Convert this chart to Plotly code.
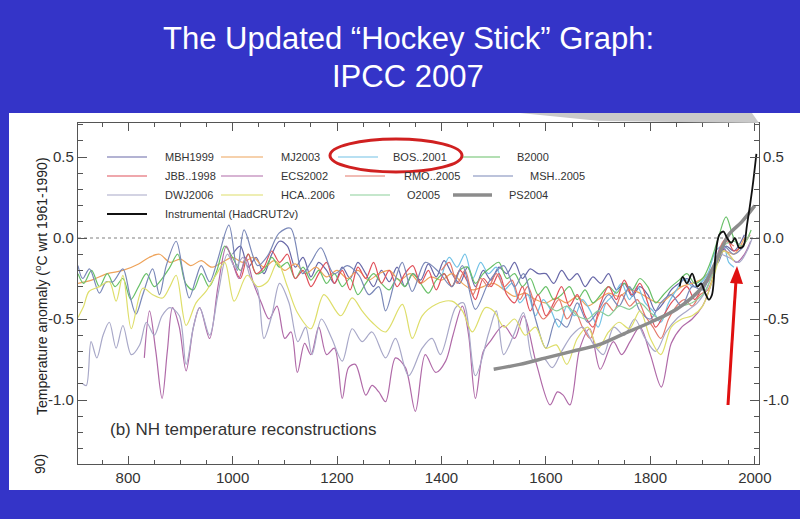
import plotly.graph_objects as go

# ---------------- data (year, anomaly) ----------------
MBH1999 = [(1000,-0.10),(1015,-0.05),(1030,-0.18),(1045,-0.12),(1060,-0.22),(1075,-0.10),(1090,-0.02),(1105,-0.05),
           (1120,-0.18),(1135,-0.12),(1150,-0.24),(1165,-0.15),(1180,-0.20),(1195,-0.28),(1210,-0.18),(1225,-0.25),
           (1240,-0.15),(1255,-0.22),(1270,-0.30),(1285,-0.20),(1300,-0.27),(1315,-0.18),(1330,-0.30),(1345,-0.22),
           (1360,-0.26),(1375,-0.16),(1390,-0.24),(1405,-0.14),(1420,-0.22),(1435,-0.28),(1450,-0.18),(1465,-0.30),
           (1480,-0.20),(1495,-0.26),(1510,-0.18),(1525,-0.22),(1540,-0.15),(1555,-0.25),(1570,-0.19),(1585,-0.22),
           (1600,-0.22),(1615,-0.28),(1630,-0.20),(1645,-0.26),(1660,-0.22),(1675,-0.30),(1690,-0.24),(1705,-0.28),
           (1720,-0.22),(1735,-0.32),(1750,-0.28),(1765,-0.36),(1780,-0.30),(1795,-0.35),(1810,-0.45),(1825,-0.40),
           (1840,-0.32),(1855,-0.28),(1870,-0.25),(1885,-0.30),(1900,-0.28),(1915,-0.22),(1930,-0.15),(1945,-0.05),
           (1960,-0.08),(1980,0.02)]
MJ2003 = [(704,-0.28),(730,-0.26),(760,-0.22),(790,-0.20),(820,-0.16),(840,-0.12),(860,-0.10),(880,-0.15),(900,-0.13),
          (920,-0.17),(940,-0.14),(960,-0.18),(980,-0.15),(1000,-0.12),(1020,-0.15),(1040,-0.12),(1060,-0.18),(1080,-0.14),
          (1100,-0.20),(1120,-0.16),(1140,-0.22),(1160,-0.18),(1180,-0.24),(1200,-0.20),(1220,-0.25),(1240,-0.20),
          (1260,-0.26),(1280,-0.22),(1300,-0.20),(1320,-0.26),(1340,-0.22),(1360,-0.28),(1380,-0.24),(1400,-0.26),
          (1420,-0.22),(1440,-0.28),(1460,-0.32),(1480,-0.30),(1500,-0.28),(1520,-0.32),(1540,-0.36),(1560,-0.34),
          (1580,-0.38),(1600,-0.40),(1620,-0.37),(1640,-0.40),(1660,-0.36),(1680,-0.42),(1700,-0.38),(1720,-0.34),
          (1740,-0.36),(1760,-0.32),(1780,-0.34),(1800,-0.38),(1820,-0.40),(1840,-0.35),(1860,-0.30),(1880,-0.28),
          (1900,-0.25),(1920,-0.18),(1940,-0.08),(1960,-0.10),(1980,0.00)]
BOS2001 = [(1402,-0.22),(1415,-0.12),(1430,-0.18),(1445,-0.10),(1460,-0.25),(1475,-0.15),(1490,-0.22),(1505,-0.18),
           (1520,-0.32),(1535,-0.28),(1550,-0.40),(1565,-0.35),(1580,-0.48),(1595,-0.38),(1610,-0.45),(1625,-0.55),
           (1640,-0.42),(1655,-0.48),(1670,-0.38),(1685,-0.45),(1700,-0.55),(1715,-0.40),(1730,-0.35),(1745,-0.28),
           (1760,-0.38),(1775,-0.30),(1790,-0.40),(1805,-0.45),(1820,-0.52),(1835,-0.40),(1850,-0.32),(1865,-0.25),
           (1880,-0.30),(1895,-0.28),(1910,-0.22),(1925,-0.08),(1940,-0.05),(1950,-0.15),(1960,-0.18)]
B2000 = [(704,-0.22),(715,-0.28),(730,-0.20),(745,-0.30),(760,-0.22),(775,-0.30),(790,-0.25),(805,-0.38),(820,-0.30),
         (835,-0.22),(850,-0.30),(865,-0.25),(880,-0.18),(895,-0.10),(910,-0.28),(925,-0.32),(940,-0.22),(955,-0.30),
         (970,-0.20),(985,-0.05),(1000,-0.12),(1015,-0.20),(1030,-0.10),(1045,-0.22),(1060,-0.20),(1075,-0.12),
         (1090,-0.18),(1105,-0.15),(1120,-0.25),(1135,-0.18),(1150,-0.26),(1165,-0.20),(1180,-0.28),(1195,-0.22),
         (1210,-0.30),(1225,-0.25),(1240,-0.35),(1255,-0.28),(1270,-0.22),(1285,-0.28),(1300,-0.32),(1315,-0.25),
         (1330,-0.30),(1345,-0.22),(1360,-0.28),(1375,-0.34),(1390,-0.26),(1405,-0.22),(1420,-0.30),(1435,-0.20),
         (1450,-0.18),(1465,-0.28),(1480,-0.22),(1495,-0.18),(1510,-0.15),(1525,-0.25),(1540,-0.22),(1555,-0.30),
         (1570,-0.25),(1585,-0.35),(1600,-0.30),(1615,-0.38),(1630,-0.35),(1645,-0.30),(1660,-0.38),(1675,-0.32),
         (1690,-0.40),(1705,-0.35),(1720,-0.30),(1735,-0.34),(1750,-0.28),(1765,-0.32),(1780,-0.25),(1795,-0.30),
         (1810,-0.40),(1825,-0.35),(1840,-0.30),(1855,-0.26),(1870,-0.22),(1885,-0.28),(1900,-0.25),(1915,-0.15),
         (1930,0.00),(1945,0.13),(1960,0.00),(1975,-0.05),(1993,0.05)]
JBB1998 = [(1000,-0.15),(1015,-0.25),(1030,-0.10),(1045,-0.22),(1060,-0.18),(1075,-0.08),(1090,-0.15),(1105,-0.10),
           (1120,-0.25),(1135,-0.20),(1150,-0.30),(1165,-0.22),(1180,-0.15),(1195,-0.28),(1210,-0.20),(1225,-0.32),
           (1240,-0.18),(1255,-0.25),(1270,-0.15),(1285,-0.28),(1300,-0.20),(1315,-0.30),(1330,-0.22),(1345,-0.17),
           (1360,-0.28),(1375,-0.20),(1390,-0.32),(1405,-0.22),(1420,-0.30),(1435,-0.20),(1450,-0.27),(1465,-0.38),
           (1480,-0.25),(1495,-0.30),(1510,-0.22),(1525,-0.35),(1540,-0.40),(1555,-0.30),(1570,-0.45),(1585,-0.35),
           (1600,-0.48),(1615,-0.40),(1630,-0.30),(1645,-0.42),(1660,-0.35),(1675,-0.48),(1690,-0.55),(1705,-0.40),
           (1720,-0.30),(1735,-0.38),(1750,-0.26),(1765,-0.35),(1780,-0.28),(1795,-0.40),(1810,-0.55),(1825,-0.48),
           (1840,-0.40),(1855,-0.35),(1870,-0.30),(1885,-0.38),(1900,-0.30),(1915,-0.25),(1930,-0.10),(1945,0.00),
           (1960,-0.08),(1975,-0.05),(1991,0.02)]
ECS2002 = [(831,-0.74),(841,-0.45),(853,-0.70),(865,-0.99),(875,-0.70),(885,-0.43),(898,-0.55),(911,-0.82),(925,-0.55),
           (937,-0.43),(956,-0.62),(972,-0.30),(988,-0.05),(1000,-0.15),(1012,-0.25),(1025,-0.12),(1040,-0.28),
           (1055,-0.40),(1070,-0.50),(1085,-0.42),(1100,-0.62),(1112,-0.58),(1124,-0.83),(1138,-0.65),(1150,-0.72),
           (1165,-0.55),(1180,-0.72),(1195,-0.68),(1210,-0.99),(1222,-0.80),(1235,-0.78),(1255,-0.97),(1267,-0.91),
           (1280,-0.95),(1293,-1.01),(1312,-0.74),(1331,-0.80),(1350,-1.07),(1369,-0.72),(1389,-0.83),(1408,-0.76),
           (1422,-0.60),(1440,-0.42),(1452,-0.60),(1465,-0.99),(1480,-0.70),(1493,-0.64),(1519,-0.54),(1540,-0.62),
           (1557,-0.48),(1582,-0.78),(1608,-1.03),(1622,-0.95),(1633,-0.97),(1646,-1.03),(1665,-0.68),(1684,-0.56),
           (1704,-0.81),(1729,-0.64),(1745,-0.72),(1761,-0.64),(1780,-0.55),(1800,-0.72),(1821,-0.92),(1840,-0.65),
           (1860,-0.55),(1880,-0.50),(1900,-0.42),(1920,-0.25),(1935,-0.05),(1950,-0.10),(1965,-0.15),(1980,-0.10),
           (1992,-0.02)]
RMO2005 = [(1400,-0.20),(1415,-0.15),(1430,-0.28),(1445,-0.20),(1460,-0.35),(1475,-0.25),(1490,-0.30),(1505,-0.22),
           (1520,-0.30),(1535,-0.26),(1550,-0.38),(1565,-0.30),(1580,-0.42),(1595,-0.50),(1610,-0.45),(1625,-0.38),
           (1640,-0.50),(1655,-0.45),(1670,-0.55),(1685,-0.62),(1700,-0.48),(1715,-0.40),(1730,-0.45),(1745,-0.35),
           (1760,-0.42),(1775,-0.38),(1790,-0.48),(1805,-0.55),(1820,-0.62),(1835,-0.50),(1850,-0.42),(1865,-0.38),
           (1880,-0.42),(1895,-0.35),(1910,-0.32),(1925,-0.18),(1940,-0.02),(1960,-0.05)]
MSH2005 = [(704,-0.17),(713,-0.25),(726,-0.19),(745,-0.34),(758,-0.27),(771,-0.27),(790,-0.19),(803,-0.35),(815,-0.47),
           (828,-0.35),(847,-0.19),(860,-0.35),(873,-0.17),(892,-0.02),(905,-0.21),(917,-0.37),(930,-0.25),(940,-0.17),
           (956,-0.27),(970,-0.15),(993,0.08),(1009,-0.20),(1022,0.05),(1048,-0.17),(1067,-0.11),(1089,0.03),
           (1111,0.06),(1134,-0.22),(1150,-0.15),(1169,-0.06),(1194,-0.22),(1220,-0.17),(1242,-0.23),(1261,-0.35),
           (1280,-0.30),(1293,-0.45),(1312,-0.25),(1325,-0.15),(1344,-0.33),(1369,-0.15),(1395,-0.21),(1420,-0.30),
           (1440,-0.17),(1465,-0.44),(1491,-0.27),(1519,-0.17),(1540,-0.30),(1557,-0.22),(1580,-0.50),(1600,-0.68),
           (1620,-0.50),(1640,-0.55),(1660,-0.40),(1680,-0.52),(1700,-0.45),(1720,-0.35),(1740,-0.42),(1760,-0.30),
           (1780,-0.45),(1800,-0.50),(1820,-0.40),(1840,-0.35),(1860,-0.42),(1880,-0.30),(1900,-0.32),(1920,-0.18),
           (1940,-0.05),(1960,-0.10),(1979,-0.05)]
DWJ2006 = [(713,-0.90),(720,-0.91),(729,-0.64),(740,-0.74),(752,-0.60),(764,-0.52),(777,-0.68),(790,-0.54),(806,-0.72),
           (822,-0.66),(835,-0.52),(850,-0.60),(865,-0.48),(880,-0.43),(898,-0.48),(911,-0.78),(925,-0.55),(937,-0.43),
           (956,-0.60),(972,-0.35),(990,-0.10),(1005,-0.18),(1020,-0.12),(1035,-0.25),(1048,-0.32),(1060,-0.62),
           (1075,-0.48),(1090,-0.28),(1108,-0.40),(1125,-0.64),(1140,-0.55),(1152,-0.72),(1170,-0.50),(1190,-0.62),
           (1210,-0.76),(1229,-0.56),(1248,-0.64),(1267,-0.58),(1293,-0.74),(1312,-0.62),(1337,-0.85),(1363,-0.68),
           (1382,-0.62),(1398,-0.72),(1427,-0.43),(1442,-0.40),(1465,-0.85),(1491,-0.58),(1505,-0.45),(1519,-0.72),
           (1538,-0.60),(1557,-0.46),(1576,-0.76),(1595,-0.74),(1612,-0.80),(1630,-0.70),(1650,-0.60),(1670,-0.55),
           (1690,-0.65),(1710,-0.72),(1730,-0.55),(1750,-0.60),(1770,-0.50),(1790,-0.62),(1810,-0.70),(1830,-0.58),
           (1850,-0.50),(1870,-0.45),(1890,-0.40),(1910,-0.30),(1930,-0.10),(1950,-0.12),(1970,-0.15),(1985,-0.08),
           (1995,0.00)]
HCA2006 = [(704,-0.49),(715,-0.42),(725,-0.33),(745,-0.30),(764,-0.27),(777,-0.39),(790,-0.23),(806,-0.56),(828,-0.31),
           (847,-0.35),(866,-0.37),(880,-0.30),(892,-0.23),(911,-0.54),(930,-0.40),(949,-0.33),(968,-0.23),(985,-0.15),
           (1003,-0.39),(1028,-0.23),(1048,-0.30),(1067,-0.27),(1086,-0.15),(1105,-0.30),(1124,-0.46),(1150,-0.56),
           (1175,-0.35),(1207,-0.48),(1229,-0.37),(1248,-0.45),(1267,-0.52),(1293,-0.58),(1325,-0.41),(1344,-0.62),
           (1363,-0.48),(1389,-0.41),(1420,-0.39),(1440,-0.45),(1459,-0.58),(1484,-0.43),(1500,-0.45),(1520,-0.55),
           (1540,-0.50),(1560,-0.60),(1580,-0.55),(1600,-0.68),(1620,-0.66),(1640,-0.78),(1660,-0.62),(1680,-0.55),
           (1700,-0.68),(1720,-0.58),(1740,-0.52),(1760,-0.56),(1780,-0.45),(1800,-0.62),(1820,-0.72),(1840,-0.55),
           (1860,-0.50),(1880,-0.48),(1900,-0.42),(1920,-0.25),(1940,-0.08),(1960,-0.14)]
O2005 = [(1600,-0.40),(1620,-0.45),(1640,-0.42),(1660,-0.48),(1680,-0.50),(1700,-0.45),(1720,-0.48),(1740,-0.42),
         (1760,-0.44),(1780,-0.40),(1800,-0.46),(1820,-0.50),(1840,-0.45),(1860,-0.42),(1880,-0.40),(1900,-0.35),
         (1920,-0.22),(1940,-0.05),(1960,-0.02),(1975,-0.05),(1990,0.02)]
PS2004 = [(1500,-0.81),(1550,-0.78),(1600,-0.74),(1650,-0.70),(1700,-0.66),(1750,-0.59),(1800,-0.52),(1850,-0.44),
          (1900,-0.30),(1925,-0.15),(1950,0.02),(1975,0.10),(2000,0.20)]
HADCRUT2V = [(1856,-0.30),(1862,-0.24),(1870,-0.28),(1880,-0.22),(1890,-0.30),(1897,-0.28),(1905,-0.34),(1912,-0.38),
             (1918,-0.35),(1925,-0.10),(1932,0.02),(1940,0.04),(1947,0.00),(1955,-0.03),(1962,0.00),(1970,-0.06),
             (1978,-0.05),(1985,0.08),(1995,0.30),(2003,0.52)]

SERIES = [
    ("MBH1999", MBH1999, "#6868a8", 1.2),
    ("MJ2003", MJ2003, "#eea35a", 1.2),
    ("BOS..2001", BOS2001, "#72c2e6", 1.2),
    ("B2000", B2000, "#68c068", 1.2),
    ("JBB..1998", JBB1998, "#e0505a", 1.2),
    ("ECS2002", ECS2002, "#b06aa8", 1.2),
    ("RMO..2005", RMO2005, "#e4786a", 1.2),
    ("MSH..2005", MSH2005, "#7a88b8", 1.2),
    ("DWJ2006", DWJ2006, "#a8a8c8", 1.2),
    ("HCA..2006", HCA2006, "#dede6a", 1.2),
    ("O2005", O2005, "#8ccf9a", 1.2),
    ("PS2004", PS2004, "#8c8c8c", 3.5),
    ("Instrumental (HadCRUT2v)", HADCRUT2V, "#111111", 1.8),
]

Y_TICKS = [-1.0, -0.5, 0.0, 0.5]
Y_TICK_TEXT = ["-1.0", "-0.5", "0.0", "0.5"]
Y_MINOR = [round(-1.3 + 0.1 * i, 1) for i in range(21)]

# ---------------- layout helpers (pixel -> paper) ----------------
L, R, T, B = 78, 759, 123, 464
W, H = 800, 519
def px(x): return (x - L) / (R - L)
def py(y): return (B - y) / (B - T)

FONT = "Liberation Sans, Arial, Helvetica, sans-serif"
BLUE = "#3434c8"
AX = "#555555"

fig = go.Figure()
for name, pts, col, w in SERIES:
    fig.add_trace(go.Scatter(
        x=[p[0] for p in pts], y=[p[1] for p in pts], mode="lines", name=name,
        line=dict(color=col, width=w, shape="spline", smoothing=0.9),
        yaxis="y2" if name.startswith("Instrumental") else "y",
        showlegend=False, hoverinfo="skip"))

shapes = [
    dict(type="rect", xref="paper", yref="paper", x0=px(9), x1=px(800), y0=py(490), y1=py(113),
         fillcolor="white", line=dict(width=0), layer="below"),
    dict(type="path", xref="paper", yref="paper",
         path=f"M {px(520)},{py(113)} L {px(752)},{py(113)} L {px(759)},{py(123)} L {px(600)},{py(121)} Z",
         fillcolor="#c9c9c9", line=dict(width=0), layer="above"),
    dict(type="line", xref="paper", yref="y", x0=0, x1=1, y0=0, y1=0,
         line=dict(color="#aaaaaa", width=1.5, dash="dot"), layer="below"),
    dict(type="circle", xref="paper", yref="paper", x0=px(330), x1=px(462), y0=py(172), y1=py(139),
         line=dict(color="#d02020", width=3)),
    # red arrow (shaft + head)
    dict(type="line", xref="paper", yref="paper", x0=px(728), y0=py(405), x1=px(736), y1=py(280),
         line=dict(color="#e01010", width=3)),
    dict(type="path", xref="paper", yref="paper",
         path=f"M {px(737)},{py(266)} L {px(743)},{py(284)} L {px(730)},{py(283)} Z",
         fillcolor="#e01010", line=dict(width=0)),
]

annotations = [
    dict(text="The Updated “Hockey Stick” Graph:", x=px(408), y=py(38), xref="paper", yref="paper",
         showarrow=False, font=dict(family=FONT, size=31, color="white"), yanchor="middle"),
    dict(text="IPCC 2007", x=px(408), y=py(77), xref="paper", yref="paper",
         showarrow=False, font=dict(family=FONT, size=31, color="white"), yanchor="middle"),
    dict(text="Temperature anomaly (<sup>o</sup>C wrt 1961-1990)", textangle=-90, x=px(30), y=py(286),
         xref="paper", yref="paper", showarrow=False, font=dict(family=FONT, size=14, color="#222")),
    dict(text="90)", textangle=-90, x=px(30), y=py(476), xref="paper", yref="paper",
         showarrow=False, font=dict(family=FONT, size=14, color="#222")),
    dict(text="(b) NH temperature reconstructions", x=px(108), y=py(441), xref="paper", yref="paper",
         xanchor="left", showarrow=False, font=dict(family=FONT, size=17, color="#333")),
]

# legend drawn as swatches + labels
LEG = [  # name, x0, x1, text_x, row_y
    ("MBH1999", 107, 147, 163, 157), ("MJ2003", 221, 263, 279, 157), ("BOS..2001", 338, 378, 391, 157), ("B2000", 463, 500, 515, 157),
    ("JBB..1998", 107, 147, 163, 176), ("ECS2002", 221, 263, 279, 176), ("RMO..2005", 345, 385, 402, 176), ("MSH..2005", 473, 513, 528, 176),
    ("DWJ2006", 107, 147, 163, 195), ("HCA..2006", 221, 263, 279, 195), ("O2005", 350, 390, 405, 195), ("PS2004", 453, 492, 507, 195),
    ("Instrumental (HadCRUT2v)", 107, 147, 163, 214),
]
style = {n: (c, w) for n, _, c, w in SERIES}
for name, x0, x1, tx, ry in LEG:
    c, w = style[name]
    shapes.append(dict(type="line", xref="paper", yref="paper", x0=px(x0), x1=px(x1), y0=py(ry), y1=py(ry),
                       line=dict(color=c, width=w)))
    annotations.append(dict(text=name, x=px(tx), y=py(ry), xref="paper", yref="paper", xanchor="left",
                            yanchor="middle", showarrow=False, font=dict(family=FONT, size=11, color="#333")))

yax = dict(range=[-1.395, 0.71], tickmode="array", tickvals=Y_TICKS, ticktext=Y_TICK_TEXT,
           ticks="inside", ticklen=9, tickwidth=1, tickcolor=AX, showline=True, linecolor=AX, linewidth=1.2,
           showgrid=False, zeroline=False, tickfont=dict(family=FONT, size=15, color="#333"),
           minor=dict(tickmode="array", tickvals=Y_MINOR, ticks="inside", ticklen=5, tickcolor=AX, showgrid=False))

fig.update_layout(
    width=W, height=H, margin=dict(l=L, r=W - R, t=T, b=H - B, pad=0),
    paper_bgcolor=BLUE, plot_bgcolor="white", showlegend=False,
    font=dict(family=FONT, color="#333"),
    xaxis=dict(range=[704, 2008], tickmode="linear", tick0=800, dtick=200, ticks="inside", ticklen=8,
               tickwidth=1, tickcolor=AX, showline=True, linecolor=AX, linewidth=1.2, mirror="ticks",
               showgrid=False, zeroline=False, tickfont=dict(family=FONT, size=15, color="#333"),
               minor=dict(tickmode="linear", tick0=800, dtick=50, ticks="inside", ticklen=4, tickcolor=AX, showgrid=False)),
    yaxis=yax,
    yaxis2=dict(yax, overlaying="y", side="right", anchor="x"),
    shapes=shapes, annotations=annotations,
)

fig.write_html("out.html", config={"displayModeBar": False},
               post_script="document.body.style.margin='0';document.body.style.overflow='hidden';")
